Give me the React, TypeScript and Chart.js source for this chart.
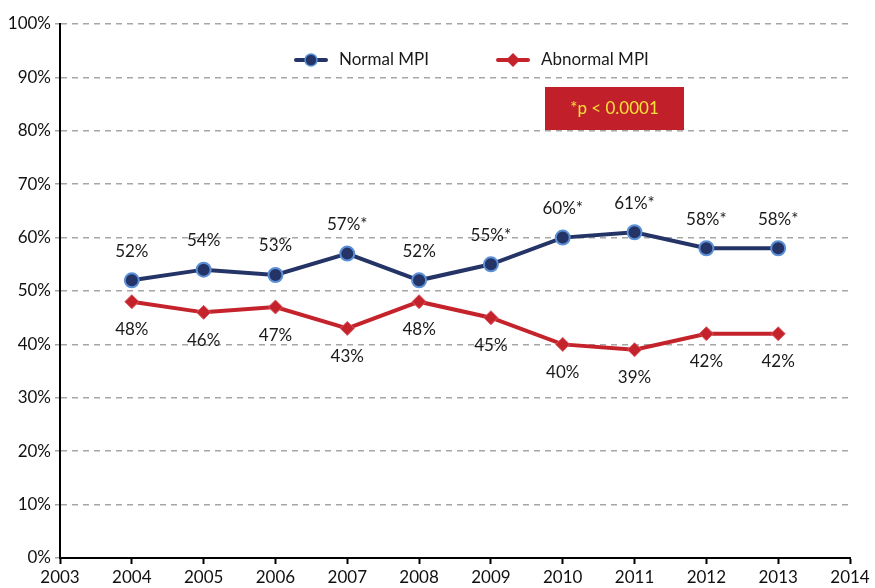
import React, { useEffect, useRef } from "react";
import { Chart, registerables } from "chart.js";
Chart.register(...registerables);

const years = [2004, 2005, 2006, 2007, 2008, 2009, 2010, 2011, 2012, 2013];
const normalValues = [52, 54, 53, 57, 52, 55, 60, 61, 58, 58];
const abnormalValues = [48, 46, 47, 43, 48, 45, 40, 39, 42, 42];
const normalLabels = ["52%", "54%", "53%", "57%*", "52%", "55%*", "60%*", "61%*", "58%*", "58%*"];
const abnormalLabels = ["48%", "46%", "47%", "43%", "48%", "45%", "40%", "39%", "42%", "42%"];
const seriesNames = ["Normal MPI", "Abnormal MPI"];
const noteText = "*p < 0.0001";

const FONT = "Lato, 'Liberation Sans', sans-serif";
const BLUE = "#253466";
const BLUE_EDGE = "#5b8fd6";
const RED = "#c5232c";
const RED_EDGE = "#d9585e";

const overlayPlugin = {
  id: "overlay",
  afterDatasetsDraw(chart: any) {
    const ctx = chart.ctx;
    ctx.save();
    ctx.font = `17px ${FONT}`;
    ctx.fillStyle = "#1a1a1a";
    ctx.textAlign = "center";
    ctx.textBaseline = "middle";
    const m0 = chart.getDatasetMeta(0);
    const m1 = chart.getDatasetMeta(1);
    m0.data.forEach((p: any, i: number) => ctx.fillText(normalLabels[i], p.x, p.y - 29));
    m1.data.forEach((p: any, i: number) => ctx.fillText(abnormalLabels[i], p.x, p.y + 28));

    // legend
    const ly = 60;
    ctx.lineWidth = 4;
    ctx.lineCap = "round";
    ctx.strokeStyle = BLUE;
    ctx.beginPath();
    ctx.moveTo(296, ly);
    ctx.lineTo(326, ly);
    ctx.stroke();
    ctx.beginPath();
    ctx.arc(311, ly, 6, 0, Math.PI * 2);
    ctx.fillStyle = BLUE;
    ctx.fill();
    ctx.lineWidth = 1.5;
    ctx.strokeStyle = BLUE_EDGE;
    ctx.stroke();

    ctx.lineWidth = 4;
    ctx.strokeStyle = RED;
    ctx.beginPath();
    ctx.moveTo(498, ly);
    ctx.lineTo(528, ly);
    ctx.stroke();
    ctx.beginPath();
    ctx.moveTo(513, ly - 7);
    ctx.lineTo(520, ly);
    ctx.lineTo(513, ly + 7);
    ctx.lineTo(506, ly);
    ctx.closePath();
    ctx.fillStyle = RED;
    ctx.fill();

    ctx.fillStyle = "#1a1a1a";
    ctx.textAlign = "left";
    ctx.fillText(seriesNames[0], 339, ly);
    ctx.fillText(seriesNames[1], 541, ly);

    // note box
    ctx.fillStyle = "#c1202a";
    ctx.fillRect(545, 87, 139, 43);
    ctx.fillStyle = "#f7e03a";
    ctx.textAlign = "center";
    ctx.fillText(noteText, 614.5, 109);
    ctx.restore();
  },
};

export default function App() {
  const ref = useRef<HTMLCanvasElement>(null);
  useEffect(() => {
    document.body.style.margin = "0";
    const chart = new Chart(ref.current!, {
      type: "line",
      data: {
        datasets: [
          {
            label: seriesNames[0],
            data: years.map((y, i) => ({ x: y, y: normalValues[i] })),
            borderColor: BLUE,
            borderWidth: 4,
            backgroundColor: BLUE,
            pointBackgroundColor: BLUE,
            pointBorderColor: BLUE_EDGE,
            pointBorderWidth: 2,
            pointRadius: 7,
            pointStyle: "circle",
            tension: 0,
          },
          {
            label: seriesNames[1],
            data: years.map((y, i) => ({ x: y, y: abnormalValues[i] })),
            borderColor: RED,
            borderWidth: 4,
            backgroundColor: RED,
            pointBackgroundColor: RED,
            pointBorderColor: RED_EDGE,
            pointBorderWidth: 1,
            pointRadius: 7,
            pointStyle: "rectRot",
            tension: 0,
          },
        ],
      },
      options: {
        animation: false,
        responsive: false,
        layout: { padding: { top: 24, right: 25, left: 0, bottom: 0 } },
        plugins: { legend: { display: false }, tooltip: { enabled: false } },
        scales: {
          x: {
            type: "linear",
            min: 2003,
            max: 2014,
            afterFit: (s: any) => {
              s.height = 30;
            },
            ticks: {
              stepSize: 1,
              color: "#111",
              font: { family: FONT, size: 17 },
              callback: (v: any) => String(v),
              padding: 3,
              maxRotation: 0,
            },
            grid: {
              drawOnChartArea: false,
              drawTicks: true,
              tickLength: 6,
              tickColor: "#000",
              tickWidth: 2,
            },
            border: { color: "#000", width: 2 },
          },
          y: {
            min: 0,
            max: 100,
            afterFit: (s: any) => {
              s.width = 60;
            },
            ticks: {
              stepSize: 10,
              color: "#111",
              font: { family: FONT, size: 17 },
              callback: (v: any) => v + "%",
              padding: 4,
            },
            grid: {
              color: "#a6a6a6",
              lineWidth: 1.5,
              tickLength: 5,
              tickColor: "#a6a6a6",
            },
            border: { color: "#000", width: 2, dash: [6, 5] },
          },
        },
      },
      plugins: [overlayPlugin],
    } as any);
    return () => chart.destroy();
  }, []);
  return (
    <div style={{ position: "absolute", left: 0, top: 0, width: 875, height: 588 }}>
      <canvas ref={ref} width={875} height={588} style={{ display: "block" }} />
    </div>
  );
}
